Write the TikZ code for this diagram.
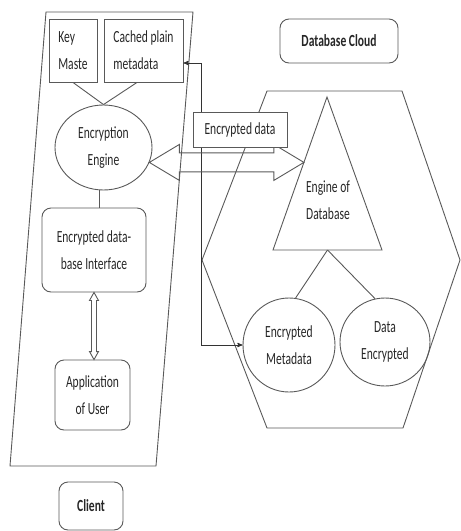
\documentclass[tikz,border=0pt]{standalone}
\usepackage{xcolor}
\usepackage{fontspec}
\setmainfont{Carlito}[FakeStretch=0.68]
\usepackage{tikz}
\usetikzlibrary{arrows, shapes.geometric, calc}

\newcommand{\hollowdbl}[5]{%
	\coordinate (ha) at ($(#1)!#5!(#2)$);
	\coordinate (hb) at ($(#2)!#5!(#1)$);
	\draw (#1) -- ($(ha)!#4!90:(#2)$) -- ($(ha)!#3!90:(#2)$) -- ($(hb)!#3!-90:(#1)$) -- ($(hb)!#4!-90:(#1)$) -- (#2)
		-- ($(hb)!#4!90:(#1)$) -- ($(hb)!#3!90:(#1)$) -- ($(ha)!#3!-90:(#2)$) -- ($(ha)!#4!-90:(#2)$) -- cycle;}

\begin{document}
\begin{tikzpicture}[x=1pt, y=-1pt,
				>=stealth',
				line width=0.9pt,
				color=black!65,
				font=\fontsize{17}{27}\selectfont,
				plainbox/.style={draw, text=black!85, align=left, inner sep=0pt},
				roundbox/.style={draw, rounded corners=9pt, text=black!85, align=center, inner sep=0pt},
				oval/.style={draw, ellipse, text=black!85, align=center, inner sep=0pt},
				boldlbl/.style={font=\fontsize{17}{27}\selectfont\bfseries}]
				\useasboundingbox (0,0) rectangle (461,531);
				\draw (46,12) -- (193,12) -- (156,466) -- (10,466) -- cycle;
				\draw (267,91) -- (402,91) -- (460,260) -- (403,428) -- (267,428) -- (202,260) -- cycle;
				\coordinate (apex) at (327,97);
				\coordinate (bl) at (273,250);
				\coordinate (br) at (382,250);
				\coordinate (tbase) at ($(bl)!0.5!(br)$);
				\draw (apex) -- (br) -- (bl) -- cycle;
				\node at (73,50.5) (key) [plainbox, minimum width=48pt, minimum height=63pt] {Key\\Maste};
				\node at (143.5,50.5) (cache) [plainbox, minimum width=79pt, minimum height=63pt] {Cached plain\\metadata};
				\node at (103.5,147.5) (eng) [oval, minimum width=97pt, minimum height=85pt] {Encryption\\Engine};
				\node at (94,250) (iface) [roundbox, minimum width=104pt, minimum height=84pt] {Encrypted data-\\base Interface};
				\node at (92.5,395) (app) [roundbox, minimum width=75pt, minimum height=70pt] {Application\\of User};
				\node at (91,506) (client) [roundbox, boldlbl, minimum width=64pt, minimum height=48pt] {Client};
				\node at (339,41) (cloud) [roundbox, boldlbl, minimum width=118pt, minimum height=44pt] {Database Cloud};
				\node at (328,200) (dbeng) [text=black!85, align=center] {Engine of\\Database};
				\node at (289,345) (emeta) [oval, minimum width=92pt, minimum height=94pt] {Encrypted\\Metadata};
				\node at (385,342) (dataenc) [oval, minimum width=90pt, minimum height=88pt] {Data\\Encrypted};
				\draw (key.south) -- (eng.north);
				\draw ([xshift=-6.5pt]cache.south) -- (eng.north);
				\draw (eng.265) -- (eng.265 |- iface.north);
				\draw (tbase) -- (emeta.82);
				\draw (tbase) -- (dataenc.103);
				\draw[<->, black!80] ([yshift=-12.5pt]cache.east) -| ($(emeta.west)+(-41,0)$) -- (emeta.west);
				\coordinate (ia) at (iface.south);
				\coordinate (ib) at (iface.south |- app.north);
				\hollowdbl{ia}{ib}{2.5pt}{4.5pt}{8pt}
				\coordinate (ee) at (eng.342.4);
				\coordinate (ee2) at ($(ee)+(10,0)$);
				\coordinate (tip) at (intersection of ee--ee2 and apex--bl);
				\hollowdbl{ee}{tip}{9.5pt}{18pt}{30pt}
				\node at (240,130) (encdata) [plainbox, fill=white, minimum width=94pt, minimum height=35pt] {Encrypted data};
			\end{tikzpicture}
\end{document}
